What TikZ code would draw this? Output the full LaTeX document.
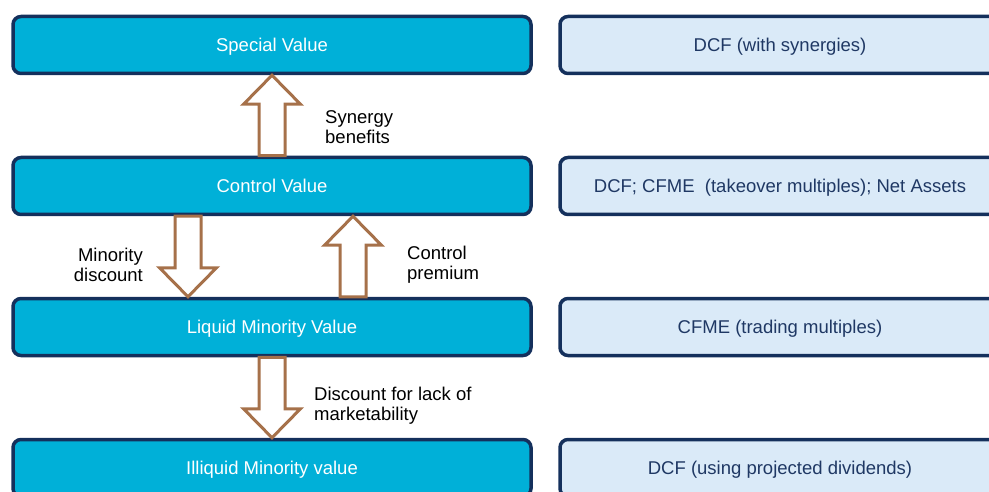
\documentclass[tikz,border=0pt]{standalone}
\usepackage{fontspec}
\setmainfont{Liberation Sans}
\usetikzlibrary{positioning,calc}
\definecolor{vblue}{HTML}{00B0D8}
\definecolor{vnavy}{HTML}{14305C}
\definecolor{vpale}{HTML}{DAEAF8}
\definecolor{vbrown}{HTML}{A6714A}
\definecolor{vtext}{HTML}{1F3864}
\tikzset{
  valbox/.style ={draw=vnavy, line width=3.5pt, rounded corners=8pt, fill=vblue,
                  text=white, align=center, minimum width=518, minimum height=57,
                  text depth=0pt},
  methbox/.style={draw=vnavy, line width=3.5pt, rounded corners=8pt, fill=vpale,
                  text=vtext, align=center, minimum width=440, minimum height=57,
                  text depth=0pt},
  valarr/.style ={draw=vbrown, line width=3pt, fill=white, miter limit=10},
  lab/.style    ={text=black, inner sep=0pt},
}
% hollow block arrow from tail #1 to tip #2 (vertical)
\newcommand{\blockarrow}[2]{%
  \draw[valarr] let \p1=#1, \p2=#2, \n1={sign(\y2-\y1)} in
    (\x1-13pt,\y1) -- (\x1-13pt,\y2-\n1*29pt) -- (\x1-28.5pt,\y2-\n1*29pt)
    -- (\x2,\y2) -- (\x1+28.5pt,\y2-\n1*29pt) -- (\x1+13pt,\y2-\n1*29pt)
    -- (\x1+13pt,\y1) -- cycle;}

\begin{document}
\begin{tikzpicture}[x=1pt, y=-1pt, font=\fontsize{18.5}{20}\selectfont]
  \useasboundingbox (0,0) rectangle (989,492);

  % ---- value levels ----
  \node[valbox] (special) at (272,45)  {Special Value};
  \node[valbox] (control) at (272,186) {Control Value};
  \node[valbox] (liquid)  at (272,327) {Liquid Minority Value};
  \node[valbox] (illiq)   at (272,468) {Illiquid Minority value};

  % ---- methods ----
  \node[methbox] (mspecial) at (780,45)  {DCF (with synergies)};
  \node[methbox] (mcontrol) at (780,186) {DCF; CFME\ \ (takeover multiples); Net Assets};
  \node[methbox] (mliquid)  at (780,327) {CFME (trading multiples)};
  \node[methbox] (milliq)   at (780,468) {DCF (using projected dividends)};

  % ---- adjustments between levels ----
  \coordinate (mincol) at (188,0);
  \coordinate (prmcol) at (353,0);
  \blockarrow{(control.north)}{(special.south)}
  \blockarrow{(control.south -| mincol)}{(liquid.north -| mincol)}
  \blockarrow{(liquid.north -| prmcol)}{(control.south -| prmcol)}
  \blockarrow{(liquid.south)}{(illiq.north)}

  \node[lab, anchor=west, align=left]  (syn) at (325,127) {Synergy\\benefits};
  \node[lab, anchor=east, align=right] (mdi) at (143,265) {Minority\\discount};
  \node[lab, anchor=west, align=left]  (cpr) at (407,265) {Control\\premium};
  \node[lab, anchor=west, align=left]  (dlm) at (314,406) {Discount for lack of\\marketability};

\end{tikzpicture}
\end{document}
